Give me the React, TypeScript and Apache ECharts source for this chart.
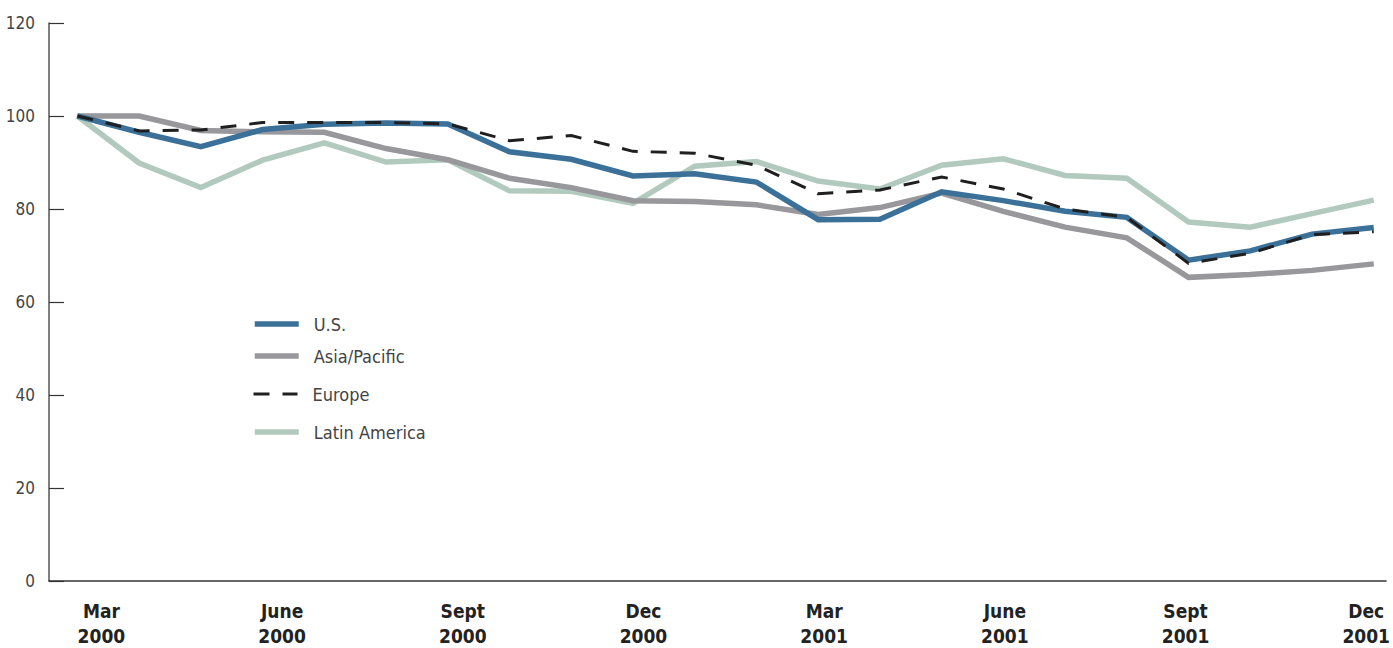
import React, { useEffect, useRef } from "react";
import * as echarts from "echarts";

// Monthly index values, March 2000 = 100
const months = [
  "Mar 2000", "Apr 2000", "May 2000", "Jun 2000", "Jul 2000", "Aug 2000",
  "Sep 2000", "Oct 2000", "Nov 2000", "Dec 2000", "Jan 2001", "Feb 2001",
  "Mar 2001", "Apr 2001", "May 2001", "Jun 2001", "Jul 2001", "Aug 2001",
  "Sep 2001", "Oct 2001", "Nov 2001", "Dec 2001",
];

const usValues = [
  100, 96.5, 93.4, 97.1, 98.2, 98.5, 98.3, 92.3, 90.7, 87.1, 87.6, 85.8,
  77.7, 77.8, 83.7, 81.8, 79.5, 78.2, 69.0, 71.0, 74.6, 76.0,
];
const asiaValues = [
  100, 100, 96.9, 96.6, 96.5, 93.0, 90.6, 86.6, 84.6, 81.8, 81.6, 80.9,
  78.8, 80.3, 83.4, 79.5, 76.1, 73.8, 65.3, 65.9, 66.8, 68.2,
];
const europeValues = [
  100, 96.8, 97.0, 98.6, 98.6, 98.6, 98.3, 94.7, 95.8, 92.4, 92.0, 89.4,
  83.3, 84.1, 86.9, 84.3, 80.0, 78.2, 68.3, 70.5, 74.5, 75.1,
];
const latinValues = [
  100, 89.9, 84.6, 90.5, 94.2, 90.1, 90.6, 83.9, 83.8, 81.2, 89.2, 90.2,
  86.0, 84.3, 89.4, 90.8, 87.2, 86.6, 77.2, 76.1, 79.0, 81.9,
];

// Quarter labels along the bottom
const quarterLabels = [
  "Mar\n2000", "June\n2000", "Sept\n2000", "Dec\n2000",
  "Mar\n2001", "June\n2001", "Sept\n2001", "Dec\n2001",
];
const yTicks = [0, 20, 40, 60, 80, 100, 120];

const FONT = "'DejaVu Sans Condensed', 'Liberation Sans Narrow', 'Roboto', sans-serif";

const seriesDefs = [
  { name: "U.S.", values: usValues, color: "#3b7099", width: 5.5, dash: "solid" as any, z: 4 },
  { name: "Asia/Pacific", values: asiaValues, color: "#97979c", width: 5.5, dash: "solid" as any, z: 3 },
  { name: "Europe", values: europeValues, color: "#1f1f1f", width: 3, dash: [16, 13] as any, z: 5 },
  { name: "Latin America", values: latinValues, color: "#b2cabe", width: 5.5, dash: "solid" as any, z: 2 },
];

const legendTops = [315, 347, 385, 423];

export default function App() {
  const ref = useRef<HTMLDivElement>(null);

  useEffect(() => {
    if (!ref.current) return;
    const chart = echarts.init(ref.current, undefined, { renderer: "svg" });

    const option: any = {
      animation: false,
      backgroundColor: "#ffffff",
      grid: { left: 49, right: 0, top: 23, bottom: 62, containLabel: false },
      xAxis: [
        {
          type: "value",
          min: -0.46,
          max: 21.2,
          axisLine: { show: true, onZero: false, lineStyle: { color: "#333333", width: 1.5 } },
          axisTick: { show: false },
          axisLabel: { show: false },
          splitLine: { show: false },
        },
        {
          type: "value",
          position: "bottom",
          min: -0.29,
          max: 7.11,
          axisLine: { show: false, onZero: false },
          axisTick: { show: false },
          splitLine: { show: false },
          axisLabel: {
            show: true,
            customValues: quarterLabels.map((_, i) => i),
            formatter: (v: number) => quarterLabels[Math.round(v)] ?? "",
            margin: 17,
            fontFamily: FONT,
            fontSize: 19,
            fontWeight: "bold",
            lineHeight: 25,
            color: "#222222",
          },
        },
      ],
      yAxis: {
        type: "value",
        min: 0,
        max: 120,
        interval: 20,
        axisLine: { show: true, onZero: false, lineStyle: { color: "#555555", width: 1.5 } },
        axisTick: { show: true, inside: true, length: 15, lineStyle: { color: "#333333", width: 1.2 } },
        axisLabel: {
          margin: 14,
          fontFamily: FONT,
          fontSize: 17,
          color: "#444444",
          customValues: yTicks,
        },
        splitLine: { show: false },
      },
      legend: seriesDefs.map((s, i) => ({
        data: [s.name],
        left: 252,
        top: legendTops[i],
        orient: "vertical",
        itemWidth: 44,
        itemHeight: 14,
        itemGap: 0,
        itemStyle: { opacity: 0 },
        lineStyle: { width: s.width, type: s.dash, color: s.color, cap: "butt" },
        textStyle: { fontFamily: FONT, fontSize: 18, color: "#444444", padding: [0, 0, 0, 10] },
        padding: 0,
        selectedMode: false,
      })),
      series: seriesDefs.map((s) => ({
        name: s.name,
        type: "line",
        xAxisIndex: 0,
        symbol: "none",
        z: s.z,
        data: s.values.map((v, i) => [i, v]),
        lineStyle: { color: s.color, width: s.width, type: s.dash, cap: "butt", join: "miter" },
        itemStyle: { color: s.color },
      })),
    };

    chart.setOption(option);
    return () => chart.dispose();
  }, []);

  return (
    <div
      ref={ref}
      style={{ position: "absolute", left: 0, top: 0, width: 1393, height: 648 }}
    />
  );
}
